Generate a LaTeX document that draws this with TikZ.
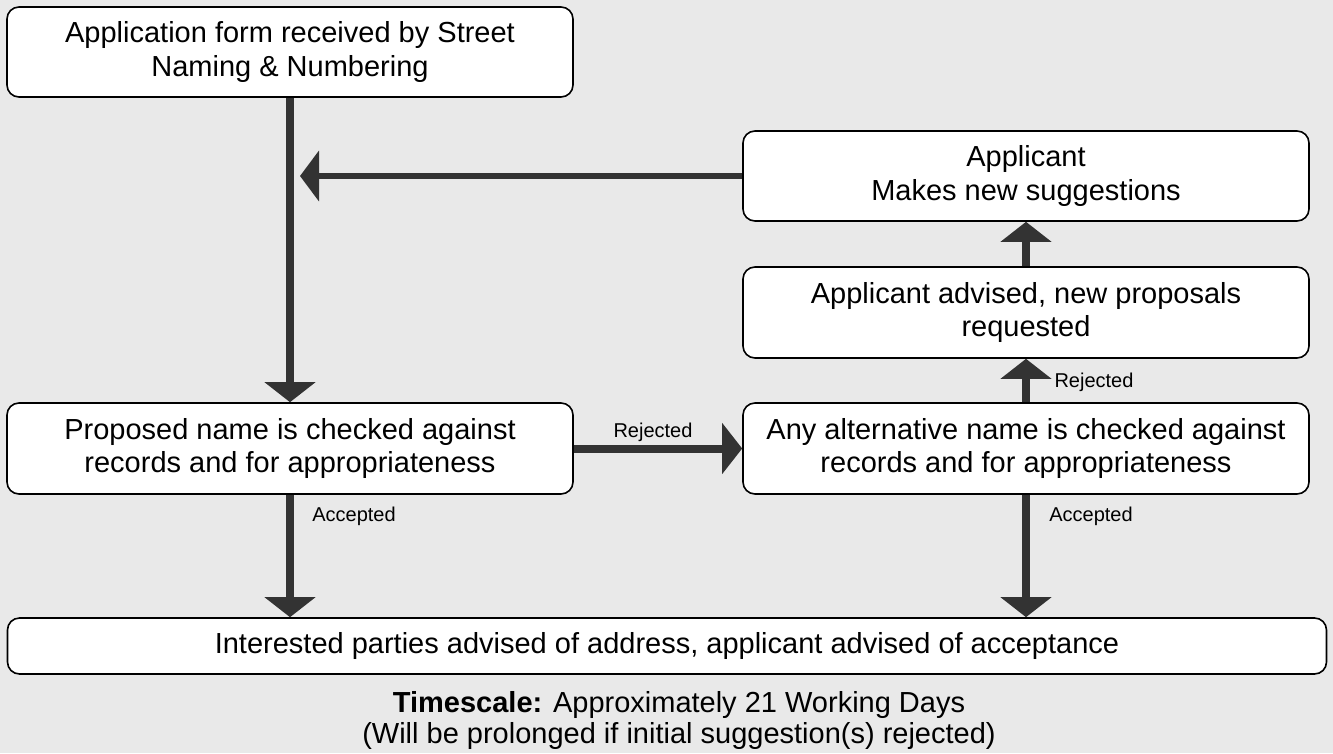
\documentclass[tikz,border=0pt]{standalone}
\usepackage{fontspec}
\setmainfont{Liberation Sans}
\usetikzlibrary{arrows.meta}
\definecolor{bgc}{RGB}{233,233,233}
\definecolor{arrc}{RGB}{51,51,51}
\begin{document}
\begin{tikzpicture}[x=1pt,y=-1pt,
  box/.style={draw=black, line width=1.6pt, fill=white, rounded corners=12pt,
    align=center, inner sep=0pt, font=\fontsize{29}{33.5}\selectfont},
  flow/.style={draw=arrc, line width=8pt, -{Triangle[width=50pt,length=20pt]}},
  thinflow/.style={draw=arrc, line width=6pt, -{Triangle[width=50pt,length=19pt]}},
  lbl/.style={font=\fontsize{20}{24}\selectfont, inner sep=0pt},
  note/.style={font=\fontsize{29}{31}\selectfont, inner sep=0pt, anchor=base}]
\fill[bgc] (0,0) rectangle (1333,753);
\useasboundingbox (0,0) rectangle (1333,753);

\node[box, minimum width=566pt, minimum height=90pt] (b1) at (290,52)
  {Application form received by Street\\Naming \& Numbering};
\node[box, minimum width=566pt, minimum height=90pt] (app) at (1026,176)
  {Applicant\\Makes new suggestions};
\node[box, minimum width=566pt, minimum height=91pt] (adv) at (1026,312.5)
  {Applicant advised, new proposals\\requested};
\node[box, minimum width=566pt, minimum height=91pt] (prop) at (290,448.5)
  {Proposed name is checked against\\records and for appropriateness};
\node[box, minimum width=566pt, minimum height=91pt] (alt) at (1026,448.5)
  {Any alternative name is checked against\\records and for appropriateness};
\node[box, minimum width=1319pt, minimum height=56pt] (bot) at (667,646)
  {Interested parties advised of address, applicant advised of acceptance};

\coordinate (fb) at (300,176);
\draw[flow] (b1.south) -- (prop.north);
\draw[thinflow] (app.west) -- (fb);
\draw[flow] (prop.east) -- (alt.west);
\draw[flow] (alt.north) -- (adv.south);
\draw[flow] (adv.north) -- (app.south);
\draw[flow] (prop.south) -- (prop.south |- bot.north);
\draw[flow] (alt.south) -- (alt.south |- bot.north);

\node[lbl] (rej1) at (653,432) {Rejected};
\node[lbl] (rej2) at (1094,382) {Rejected};
\node[lbl] (acc1) at (354,516) {Accepted};
\node[lbl] (acc2) at (1091,516) {Accepted};

\node[note] (ts1) at (679,712) {\textbf{Timescale:} Approximately 21 Working Days};
\node[note] (ts2) at (679,743) {(Will be prolonged if initial suggestion(s) rejected)};
\end{tikzpicture}
\end{document}
